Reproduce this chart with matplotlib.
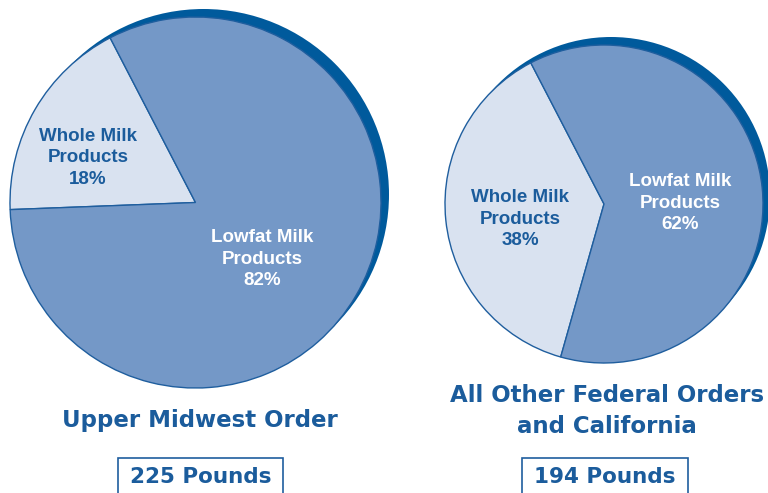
import matplotlib
matplotlib.use("Agg")
import matplotlib.pyplot as plt
from matplotlib.patches import Circle, Rectangle

# ---- data ----
categories = ["Whole Milk\nProducts", "Lowfat Milk\nProducts"]
upper_midwest = [18, 82]
other_orders = [38, 62]
titles = ["Upper Midwest Order", "All Other Federal Orders\nand California"]
pounds = [225, 194]

# ---- style ----
W, H = 768, 493
c_low = "#7498C7"
c_whole = "#D9E2F0"
c_dark = "#005A9C"
c_edge = "#1F5E9E"
c_text = "#1B5C9C"

fig = plt.figure(figsize=(W / 100, H / 100), dpi=100)
ax = fig.add_axes([0, 0, 1, 1])


def Y(y):
    return H - y


pies = [
    dict(vals=upper_midwest, cx=195.5, cy=202.5, r=185.5, sh=(8, -8),
         lab_whole=(88, 158), lab_low=(262, 259)),
    dict(vals=other_orders, cx=604, cy=204, r=159, sh=(7, -8),
         lab_whole=(520, 219), lab_low=(680, 203)),
]

for p in pies:
    # shadow disc
    ax.add_patch(Circle((p["cx"] + p["sh"][0], Y(p["cy"] + p["sh"][1])), p["r"],
                        facecolor=c_dark, edgecolor="none", zorder=0))
    ax.pie(p["vals"], colors=[c_whole, c_low], startangle=117.4, counterclock=True,
           center=(p["cx"], Y(p["cy"])), radius=p["r"], frame=True,
           wedgeprops=dict(edgecolor=c_edge, linewidth=1.0))
    for i, v in enumerate(p["vals"]):
        pos = p["lab_whole"] if i == 0 else p["lab_low"]
        ax.text(pos[0], Y(pos[1]), f"{categories[i]}\n{v}%", ha="center", va="center",
                fontsize=13.5, fontweight="bold", family="Liberation Sans",
                color=c_text if i == 0 else "white", linespacing=1.38, zorder=5)

# titles
ax.text(200, Y(420), titles[0], ha="center", va="center", fontsize=16.5,
        fontweight="bold", family="DejaVu Sans", color=c_text)
ax.text(607, Y(411), titles[1], ha="center", va="center", fontsize=16.5,
        fontweight="bold", family="DejaVu Sans", color=c_text, linespacing=1.45)

# pound boxes
boxes = [(118, 283), (522, 688)]
for (x0, x1), pv in zip(boxes, pounds):
    ax.add_patch(Rectangle((x0, Y(505)), x1 - x0, 505 - 458, facecolor="white",
                           edgecolor=c_edge, linewidth=1.2, zorder=3))
    ax.text((x0 + x1) / 2, Y(477), f"{pv} Pounds", ha="center", va="center",
            fontsize=15.5, fontweight="bold", family="DejaVu Sans", color=c_text, zorder=4)

ax.set_xlim(0, W)
ax.set_ylim(0, H)
ax.set_aspect("auto")
ax.axis("off")

fig.savefig("out.png", dpi=100, facecolor="white")
